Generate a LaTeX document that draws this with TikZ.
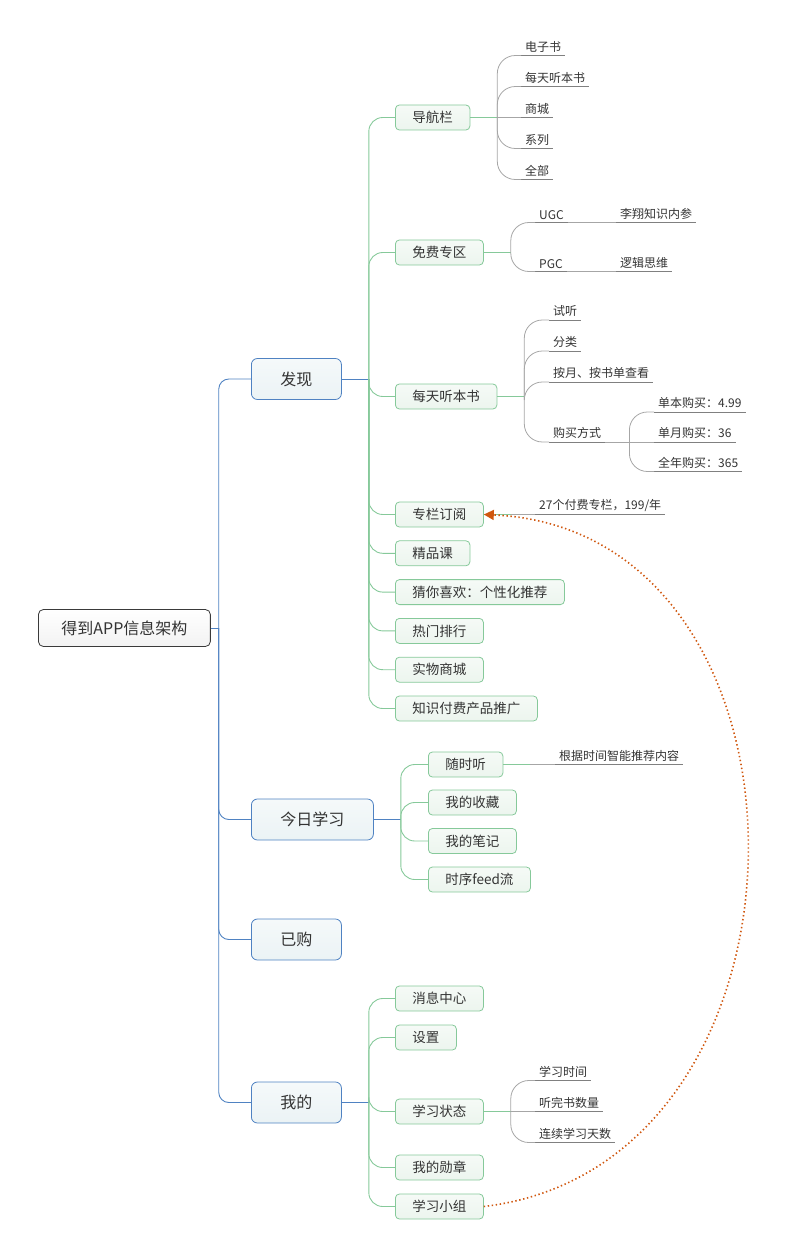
\documentclass[tikz,border=0pt]{standalone}
\usepackage{fontspec}
\setmainfont{Noto Sans CJK SC}
\usetikzlibrary{positioning}
\usetikzlibrary{arrows.meta}
\definecolor{rootline}{HTML}{3A3A3A}
\definecolor{blueline}{HTML}{4F82C2}
\definecolor{bluefill}{HTML}{EBF3F5}
\definecolor{greenline}{HTML}{86C99A}
\definecolor{greenfill}{HTML}{ECF5EE}
\definecolor{greyline}{HTML}{A6A6A6}
\definecolor{ulgrey}{HTML}{808080}
\definecolor{linkorange}{HTML}{D0570F}
\definecolor{txt}{HTML}{333333}
\tikzset{
  root/.style={draw=rootline,rounded corners=5pt,top color=white,bottom color=black!5,line width=0.8pt,
    minimum height=37pt,inner xsep=23pt,anchor=west,font=\fontsize{16}{16}\selectfont},
  main/.style={draw=blueline,top color=white!50!bluefill,bottom color=bluefill,rounded corners=6pt,line width=0.8pt,
    minimum height=41pt,inner xsep=29pt,anchor=west,font=\fontsize{16}{16}\selectfont},
  sub/.style={draw=greenline,top color=white!50!greenfill,bottom color=greenfill,rounded corners=4pt,line width=0.8pt,
    minimum height=25pt,inner xsep=17pt,anchor=west,font=\fontsize{13.5}{13.5}\selectfont},
  leaf/.style={anchor=south west,inner xsep=4pt,inner ysep=3pt,font=\fontsize{12}{12}\selectfont,
    append after command={(\tikzlastnode.south west) edge[draw=ulgrey,line width=0.6pt] (\tikzlastnode.south east)}},
  bline/.style={draw=blueline,line width=0.9pt,rounded corners=10pt},
  gline/.style={draw=greenline,line width=0.9pt,rounded corners=14pt},
  lline/.style={draw=greyline,line width=0.8pt,rounded corners=18pt},
  link/.style={draw=linkorange,line width=1.6pt,dash pattern=on 1.4pt off 2.6pt,
    -{Triangle[length=10pt,width=10pt]}},
}
\begin{document}
\begin{tikzpicture}[x=1pt,y=-1pt,every node/.style={text=txt}]
\useasboundingbox (0,0) rectangle (792,1257);
% root and the four main branches
\node[root] at (38,628) (r) {得到APP信息架构};
\node[main] at (251,379) (fx) {发现};
\node[main] at (251,819.5) (jr) {今日学习};
\node[main] at (251,939.5) (yg) {已购};
\node[main] at (251,1102.5) (wd) {我的};
\coordinate (rj) at ([xshift=8pt]r.east);
\draw[bline] (r.east) -- (rj);
\draw[bline] (rj) |- (fx.west);
\draw[bline] (rj) |- (jr.west);
\draw[bline] (rj) |- (yg.west);
\draw[bline] (rj) |- (wd.west);

% 发现
\node[sub] at (395,117.5) (dh) {导航栏};
\node[sub] at (395,252.5) (mf) {免费专区};
\node[sub] at (395,396.5) (mt) {每天听本书};
\node[sub] at (395,514.5) (zl) {专栏订阅};
\node[sub,below right=13pt and 0pt of zl.south west] (jp) {精品课};
\node[sub,below right=13pt and 0pt of jp.south west] (cn) {猜你喜欢：个性化推荐};
\node[sub,below right=13pt and 0pt of cn.south west] (rm) {热门排行};
\node[sub,below right=13pt and 0pt of rm.south west] (sw) {实物商城};
\node[sub,below right=13pt and 0pt of sw.south west] (zs) {知识付费产品推广};
\coordinate (fxj) at ([xshift=27pt]fx.east);
\draw[bline] (fx.east) -- (fxj);
\draw[gline] (fxj) |- (dh.west);
\draw[gline] (fxj) |- (mf.west);
\draw[gline] (fxj) |- (mt.west);
\draw[gline] (fxj) |- (zl.west);
\draw[gline] (fxj) |- (jp.west);
\draw[gline] (fxj) |- (cn.west);
\draw[gline] (fxj) |- (rm.west);
\draw[gline] (fxj) |- (sw.west);
\draw[gline] (fxj) |- (zs.west);

% 导航栏
\node[leaf] at (521,55.5) (dz) {电子书};
\node[leaf] at (521,86.5) (mtb) {每天听本书};
\node[leaf] at (521,117.5) (sc) {商城};
\node[leaf] at (521,148.5) (xl) {系列};
\node[leaf] at (521,179.5) (qb) {全部};
\coordinate (dhj) at ([xshift=27pt]dh.east);
\draw[gline] (dh.east) -- (dhj);
\draw[lline] (dhj) |- (dz.south west);
\draw[lline] (dhj) |- (mtb.south west);
\draw[lline] (dhj) -- (sc.south west);
\draw[lline] (dhj) |- (xl.south west);
\draw[lline] (dhj) |- (qb.south west);

% 免费专区
\node[leaf] at (535,222.5) (ugc) {UGC};
\node[leaf] at (535,271.5) (pgc) {PGC};
\node[leaf] at (616,222.5) (lx) {李翔知识内参};
\node[leaf] at (616,271.5) (lj) {逻辑思维};
\coordinate (mfj) at ([xshift=27pt]mf.east);
\draw[gline] (mf.east) -- (mfj);
\draw[lline] (mfj) |- (ugc.south west);
\draw[lline] (mfj) |- (pgc.south west);
\draw[lline] (ugc.south east) -- (lx.south west);
\draw[lline] (pgc.south east) -- (lj.south west);

% 每天听本书
\node[leaf] at (549,320) (st) {试听};
\node[leaf] at (549,351) (fl) {分类};
\node[leaf] at (549,382) (ay) {按月、按书单查看};
\node[leaf] at (549,442) (gm) {购买方式};
\node[leaf] at (654,412) (db) {单本购买：4.99};
\node[leaf] at (654,442) (dy) {单月购买：36};
\node[leaf] at (654,471.5) (qn) {全年购买：365};
\coordinate (mtj) at ([xshift=27pt]mt.east);
\coordinate (gmj) at ([xshift=24pt]gm.south east);
\draw[gline] (mt.east) -- (mtj);
\draw[lline] (mtj) |- (st.south west);
\draw[lline] (mtj) |- (fl.south west);
\draw[lline] (mtj) |- (ay.south west);
\draw[lline] (mtj) |- (gm.south west);
\draw[lline] (gm.south east) -- (gmj);
\draw[lline] (gmj) |- (db.south west);
\draw[lline] (gmj) -- (dy.south west);
\draw[lline] (gmj) |- (qn.south west);

% 专栏订阅
\node[leaf] at (535,514.5) (fz) {27个付费专栏，199/年};
\coordinate (zlj) at ([xshift=27pt]zl.east);
\draw[gline] (zl.east) -- (zlj);
\draw[lline] (zlj) -- (fz.south west);

% 今日学习
\node[sub] at (428,764.5) (ss) {随时听};
\node[sub] at (428,802.5) (sz) {我的收藏};
\node[sub] at (428,841) (bj) {我的笔记};
\node[sub] at (428,879.5) (sx) {时序feed流};
\node[leaf] at (555,764.5) (gj) {根据时间智能推荐内容};
\coordinate (jrj) at ([xshift=27pt]jr.east);
\draw[bline] (jr.east) -- (jrj);
\draw[gline] (jrj) |- (ss.west);
\draw[gline] (jrj) |- (sz.west);
\draw[gline] (jrj) |- (bj.west);
\draw[gline] (jrj) |- (sx.west);
\coordinate (ssj) at ([xshift=27pt]ss.east);
\draw[gline] (ss.east) -- (ssj);
\draw[lline] (ssj) -- (gj.south west);

% 我的
\node[sub] at (395,998.5) (xx) {消息中心};
\node[sub] at (395,1037.5) (sz2) {设置};
\node[sub] at (395,1111.5) (xt) {学习状态};
\node[sub] at (395,1167.5) (xz) {我的勋章};
\node[sub] at (395,1206.5) (xg) {学习小组};
\coordinate (wdj) at ([xshift=27pt]wd.east);
\draw[bline] (wd.east) -- (wdj);
\draw[gline] (wdj) |- (xx.west);
\draw[gline] (wdj) |- (sz2.west);
\draw[gline] (wdj) |- (xt.west);
\draw[gline] (wdj) |- (xz.west);
\draw[gline] (wdj) |- (xg.west);

% 学习状态
\node[leaf] at (535,1080.5) (xs) {学习时间};
\node[leaf] at (535,1111.5) (tw) {听完书数量};
\node[leaf] at (535,1142.5) (lx2) {连续学习天数};
\coordinate (xtj) at ([xshift=27pt]xt.east);
\draw[gline] (xt.east) -- (xtj);
\draw[lline] (xtj) |- (xs.south west);
\draw[lline] (xtj) -- (tw.south west);
\draw[lline] (xtj) |- (lx2.south west);

% 学习小组 -> 专栏订阅
\draw[link] (xg.east) .. controls (835,1165) and (835,530) .. (zl.east);
\end{tikzpicture}
\end{document}
